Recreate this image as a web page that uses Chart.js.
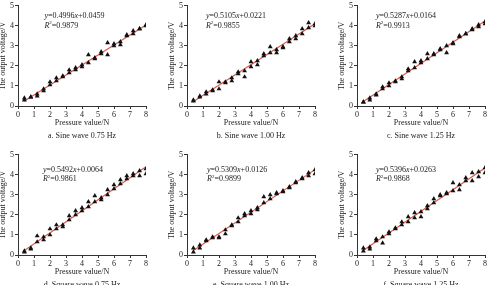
<!DOCTYPE html>
<html>
<head>
<meta charset="utf-8">
<script src="https://cdn.jsdelivr.net/npm/chart.js@4.4.0/dist/chart.umd.min.js"></script>
<style>
  body { margin: 0; background: #fff; width: 489px; height: 285px; overflow: hidden; position: relative; }
  .box { position: absolute; width: 156px; height: 141px; }
</style>
</head>
<body>
<script>
Chart.defaults.font.family = '"Liberation Serif", serif';
Chart.defaults.font.size = 8;
Chart.defaults.color = '#222';

// pressure values (N), two measurements at each one
var force = [0.4, 0.8, 1.2, 1.6, 2.0, 2.4, 2.8, 3.2, 3.6, 4.0, 4.4, 4.8, 5.2, 5.6, 6.0, 6.4, 6.8, 7.2, 7.6, 8.0];
var xTicks = [0, 1, 2, 3, 4, 5, 6, 7, 8];
var yTicks = [0, 1, 2, 3, 4, 5];

var sine075a = [0.40, 0.45, 0.60, 0.85, 1.20, 1.40, 1.50, 1.80, 1.90, 2.05, 2.55, 2.40, 2.70, 3.15, 3.10, 3.20, 3.55, 3.75, 3.85, 4.05];
var sine075b = [0.30, 0.45, 0.50, 0.75, 1.05, 1.25, 1.45, 1.65, 1.80, 1.95, 2.15, 2.35, 2.60, 2.55, 3.00, 3.05, 3.50, 3.60, 3.85, 4.00];
var sine100a = [0.30, 0.50, 0.70, 0.80, 1.20, 1.20, 1.40, 1.70, 1.75, 2.20, 2.25, 2.60, 2.95, 2.80, 2.95, 3.35, 3.50, 3.85, 4.15, 4.10];
var sine100b = [0.25, 0.45, 0.60, 0.75, 0.85, 1.15, 1.25, 1.60, 1.45, 1.95, 2.05, 2.50, 2.65, 2.65, 2.90, 3.20, 3.35, 3.60, 3.90, 4.00];
var sine125a = [0.20, 0.40, 0.60, 0.95, 1.15, 1.25, 1.45, 1.85, 2.20, 2.25, 2.60, 2.60, 2.85, 3.00, 3.15, 3.50, 3.60, 3.85, 4.05, 4.20];
var sine125b = [0.20, 0.30, 0.55, 0.85, 1.00, 1.20, 1.35, 1.75, 1.90, 2.15, 2.35, 2.55, 2.80, 2.65, 3.10, 3.45, 3.60, 3.80, 3.95, 4.10];
var square075a = [0.20, 0.35, 0.95, 0.90, 1.30, 1.50, 1.50, 1.95, 2.20, 2.35, 2.65, 2.95, 2.85, 3.25, 3.50, 3.75, 3.95, 4.05, 4.20, 4.30];
var square075b = [0.15, 0.30, 0.65, 0.75, 1.00, 1.30, 1.40, 1.75, 2.00, 2.20, 2.40, 2.65, 2.75, 3.00, 3.30, 3.55, 3.80, 3.95, 3.95, 4.05];
var square100a = [0.35, 0.50, 0.75, 0.90, 0.90, 1.25, 1.50, 1.85, 2.05, 2.20, 2.35, 2.90, 3.00, 3.10, 3.20, 3.40, 3.65, 3.85, 4.10, 4.25];
var square100b = [0.15, 0.35, 0.70, 0.85, 0.85, 1.05, 1.45, 1.65, 1.95, 2.05, 2.25, 2.60, 2.80, 3.05, 3.15, 3.35, 3.60, 3.80, 3.95, 4.05];
var square125a = [0.35, 0.40, 0.80, 0.90, 1.15, 1.35, 1.65, 1.90, 2.10, 2.15, 2.45, 2.80, 3.00, 3.10, 3.60, 3.50, 3.85, 4.10, 4.15, 4.35];
var square125b = [0.20, 0.30, 0.70, 0.60, 1.05, 1.30, 1.50, 1.65, 1.85, 1.90, 2.30, 2.60, 2.95, 3.05, 3.20, 3.25, 3.70, 3.70, 3.90, 4.10];

// fitted lines as printed on the figure
var slopes = ['0.4996', '0.5105', '0.5287', '0.5492', '0.5309', '0.5396'];
var intercepts = ['0.0459', '0.0221', '0.0164', '0.0064', '0.0126', '0.0263'];
var rSquared = ['0.9879', '0.9855', '0.9913', '0.9861', '0.9899', '0.9868'];
var captions = ['a. Sine wave 0.75 Hz', 'b. Sine wave 1.00 Hz', 'c. Sine wave 1.25 Hz',
                'd. Square wave 0.75 Hz', 'e. Square wave 1.00 Hz', 'f. Square wave 1.25 Hz'];

var runsA = [sine075a, sine100a, sine125a, square075a, square100a, square125a];
var runsB = [sine075b, sine100b, sine125b, square075b, square100b, square125b];

// layout of the 2x3 grid
var boxLeft = [-2, 167, 337, -2, 167, 337];
var boxTop = [0, 0, 0, 149, 149, 149];
var eqX = [1.65, 1.18, 1.18, 1.56, 1.25, 1.18];
var eqY = [4.5, 4.5, 4.5, 4.23, 4.23, 4.23];
var eqY2 = [4.0, 4.0, 4.0, 3.78, 3.78, 3.78];

function drawParts(c, parts, x, y) {
  parts.forEach(function (p) {
    c.font = (p[1] ? 'italic ' : '') + (p[2] || 8) + 'px "Liberation Serif", serif';
    c.fillText(p[0], x, y + (p[3] || 0));
    x += c.measureText(p[0]).width;
  });
}

var eqPlugin = {
  id: 'eq',
  afterDatasetsDraw: function (chart, args, o) {
    var c = chart.ctx;
    var px = chart.scales.x.getPixelForValue(o.x);
    var py = chart.scales.y.getPixelForValue(o.y);
    var py2 = chart.scales.y.getPixelForValue(o.y2);
    var area = chart.chartArea;
    c.save();
    c.fillStyle = '#222';
    c.textBaseline = 'middle';
    drawParts(c, [['y', true], ['=' + o.slope, false], ['x', true], ['+' + o.icpt, false]], px, py);
    drawParts(c, [['R', true], ['2', false, 5, -3], ['=' + o.r2, false]], px, py2);
    // caption under the panel
    c.font = '8px "Liberation Serif", serif';
    c.textAlign = 'center';
    c.fillText(o.caption, (area.left + area.right) / 2, area.bottom + 30);
    c.restore();
  }
};

function toPoints(vals) {
  return force.map(function (f, i) { return { x: f, y: vals[i] }; });
}

for (var i = 0; i < 6; i++) {
  var box = document.createElement('div');
  box.className = 'box';
  box.style.left = boxLeft[i] + 'px';
  box.style.top = boxTop[i] + 'px';
  var cv = document.createElement('canvas');
  box.appendChild(cv);
  document.body.appendChild(box);

  var m = parseFloat(slopes[i]), b = parseFloat(intercepts[i]);
  var x0 = force[0], x1 = force[force.length - 1];

  new Chart(cv, {
    type: 'scatter',
    data: {
      datasets: [
        { data: toPoints(runsA[i]), pointStyle: 'triangle', pointRadius: 2.8, backgroundColor: '#111', borderColor: '#111', borderWidth: 0 },
        { data: toPoints(runsB[i]), pointStyle: 'triangle', pointRadius: 2.8, backgroundColor: '#111', borderColor: '#111', borderWidth: 0 },
        { type: 'line', data: [{ x: x0, y: m * x0 + b }, { x: x1, y: m * x1 + b }], borderColor: '#e05a4e', borderWidth: 1.2, pointRadius: 0 }
      ]
    },
    options: {
      responsive: true,
      maintainAspectRatio: false,
      animation: false,
      layout: { padding: { top: 5, right: 8, left: 0, bottom: 13 } },
      plugins: {
        legend: { display: false },
        tooltip: { enabled: false },
        eq: { x: eqX[i], y: eqY[i], y2: eqY2[i], slope: slopes[i], icpt: intercepts[i], r2: rSquared[i], caption: captions[i] }
      },
      scales: {
        x: {
          type: 'linear', min: 0, max: 8,
          afterBuildTicks: function (s) { s.ticks = xTicks.map(function (v) { return { value: v }; }); },
          afterFit: function (s) { s.height = 22; },
          grid: { drawOnChartArea: false, drawTicks: true, tickLength: 3, color: '#333' },
          border: { color: '#333', width: 1 },
          ticks: { padding: 1, color: '#222' },
          title: { display: true, text: 'Pressure value/N', padding: 0, color: '#222' }
        },
        y: {
          type: 'linear', min: 0, max: 5,
          afterBuildTicks: function (s) { s.ticks = yTicks.map(function (v) { return { value: v }; }); },
          afterFit: function (s) { s.width = 20; },
          grid: { drawOnChartArea: false, drawTicks: true, tickLength: 3, color: '#333' },
          border: { color: '#333', width: 1 },
          ticks: { padding: 1, color: '#222' },
          title: { display: true, text: 'The output voltage/V', padding: 0, color: '#222' }
        }
      }
    },
    plugins: [eqPlugin]
  });
}
</script>
</body>
</html>
